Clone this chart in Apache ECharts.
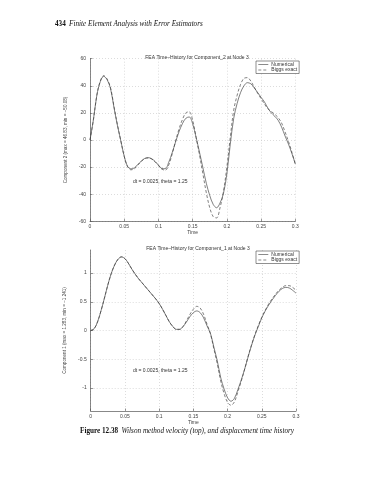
<!DOCTYPE html>
<html><head><meta charset="utf-8">
<script src="https://cdn.jsdelivr.net/npm/echarts@6/dist/echarts.min.js"></script>
<style>html,body{margin:0;padding:0;background:#fff}#c{width:370px;height:480px}</style>
</head><body><div id="c"></div>
<script>
// Time samples (s)
const times = [0,0.005,0.01,0.015,0.02,0.025,0.03,0.035,0.04,0.045,0.05,0.055,0.06,0.065,0.07,0.075,0.08,0.085,0.09,0.095,0.1,0.105,0.11,0.115,0.12,0.125,0.13,0.135,0.14,0.145,0.15,0.155,0.16,0.165,0.17,0.175,0.18,0.185,0.19,0.195,0.2,0.205,0.21,0.215,0.22,0.225,0.23,0.235,0.24,0.245,0.25,0.255,0.26,0.265,0.27,0.275,0.28,0.285,0.29,0.295,0.3];

// Top: Component_2 (velocity)
const velNumerical = [0,15,33,43,47,44.5,38,24,11,-0.5,-12,-19.5,-21.3,-20.5,-18,-15.5,-13.6,-13,-13.8,-15.8,-18.5,-21,-21.2,-16.5,-9.5,-1.5,6,12,16,17,12,2,-9,-20.5,-32,-41,-47.5,-50,-46.5,-39.5,-25,-3,16,27,35,40,42.3,41.5,38.5,35,31.5,28,23.5,20,17.5,14.5,9.5,3,-3,-10,-17.5];
const velExact = [0,15,33,43.5,47.5,45,38.5,25,11.5,-0.5,-12,-19.8,-22,-21.2,-18.5,-15.8,-13.8,-13.3,-14,-16,-18.8,-21.5,-22.3,-18.5,-10.5,-1,8,15,20,20.8,14.5,2,-11,-25,-39,-50,-56.5,-57.5,-50,-38,-20,2,22,33,41,45.5,46,43.5,39,34.5,30.5,26.5,23,21,19,16.5,12.5,6,-1,-9,-18];

// Bottom: Component_1 (displacement)
const dispNumerical = [0,0.03,0.15,0.34,0.56,0.79,0.99,1.14,1.24,1.28,1.25,1.17,1.07,0.98,0.9,0.83,0.76,0.69,0.62,0.55,0.47,0.37,0.26,0.15,0.07,0.02,0.02,0.07,0.15,0.24,0.31,0.34,0.31,0.22,0.08,-0.05,-0.29,-0.53,-0.82,-1.02,-1.17,-1.23,-1.18,-1.03,-0.86,-0.67,-0.46,-0.26,-0.08,0.07,0.22,0.34,0.44,0.53,0.61,0.68,0.73,0.75,0.74,0.7,0.65];
const dispExact = [0,0.03,0.15,0.34,0.56,0.79,0.99,1.14,1.24,1.28,1.25,1.17,1.07,0.98,0.9,0.83,0.76,0.69,0.62,0.55,0.47,0.37,0.26,0.15,0.07,0.02,0.02,0.07,0.17,0.28,0.37,0.42,0.39,0.28,0.11,-0.06,-0.32,-0.58,-0.88,-1.1,-1.25,-1.3,-1.24,-1.07,-0.88,-0.67,-0.45,-0.25,-0.07,0.09,0.23,0.35,0.46,0.55,0.63,0.7,0.75,0.78,0.78,0.75,0.7];

const bottomTicks = [-1,-0.5,0,0.5,1];
const seriesNames = ['Numerical','Biggs exact'];

const FONT = 'Liberation Sans';
const SERIF = 'Liberation Serif';
const labelColor = '#444';
const lineColor = '#3a3a3a';

function pairs(v){ return times.map((t,i)=>[t, v[i]]); }

function xAxisFor(gi){
  return {
    type:'value', gridIndex:gi, min:0, max:0.3, interval:0.05,
    name:'Time', nameLocation:'middle', nameGap:9,
    nameTextStyle:{fontFamily:FONT,fontSize:5,color:labelColor},
    axisLine:{show:true,onZero:false,lineStyle:{color:'#555',width:0.7}},
    axisTick:{show:true,inside:true,length:2.5,lineStyle:{color:'#555',width:0.6}},
    axisLabel:{fontFamily:FONT,fontSize:5,color:labelColor,margin:3},
    splitLine:{show:true,lineStyle:{color:'#c4c4c4',width:0.6,type:[1,2]}}
  };
}
function yAxisBase(gi,name){
  return {
    type:'value', gridIndex:gi,
    name:name, nameLocation:'middle', nameGap:12,
    nameTextStyle:{fontFamily:FONT,fontSize:4.6,color:labelColor},
    axisLine:{show:true,onZero:false,lineStyle:{color:'#555',width:0.7}},
    axisTick:{show:true,inside:true,length:2.5,lineStyle:{color:'#555',width:0.6}},
    axisLabel:{fontFamily:FONT,fontSize:5,color:labelColor,margin:4},
    splitLine:{show:true,lineStyle:{color:'#c4c4c4',width:0.6,type:[1,2]}}
  };
}

const yTop = Object.assign(yAxisBase(0,'Component 2 (max = 46.83, min = \u221250.08)'),{min:-60,max:60,interval:20});
const yBot = Object.assign(yAxisBase(1,'Component 1 (max = 1.283, min = \u22121.241)'),{min:-1.4,max:1.4});
yBot.axisTick = Object.assign({}, yBot.axisTick, {customValues:bottomTicks});
yBot.axisLabel = Object.assign({}, yBot.axisLabel, {customValues:bottomTicks});

function line(name,data,xi,yi,dashed){
  return {
    name:name, type:'line', xAxisIndex:xi, yAxisIndex:yi, data:pairs(data),
    showSymbol:false, symbol:'circle', smooth:0.35, silent:true,
    lineStyle:{color:lineColor,width:0.65,type:dashed?[3,2]:'solid'},
    itemStyle:{color:lineColor}
  };
}

function legendAt(top){
  return {
    data:seriesNames, left:256, top:top, orient:'vertical',
    backgroundColor:'#fff', borderColor:'#444', borderWidth:0.6,
    padding:[1,2,1,2], itemGap:0.5, itemWidth:10, itemHeight:4,
    itemStyle:{opacity:0},
    lineStyle:{width:0.6},
    textStyle:{fontFamily:FONT,fontSize:5,color:'#333',padding:[0,0,0,-2]},
    selectedMode:false
  };
}

const chart = echarts.init(document.getElementById('c'), null, {renderer:'canvas'});
chart.setOption({
  backgroundColor:'#fff',
  animation:false,
  title:[
    {text:'FEA Time\u2013History for Component_2 at Node 3', left:192, top:50, textAlign:'center',
     textStyle:{fontFamily:FONT,fontSize:5,fontWeight:'normal',color:'#333'}},
    {text:'FEA Time\u2013History for Component_1 at Node 3', left:193, top:241, textAlign:'center',
     textStyle:{fontFamily:FONT,fontSize:5,fontWeight:'normal',color:'#333'}}
  ],
  grid:[
    {left:90, top:58.7, width:205.3, height:162.6},
    {left:90.7, top:250, width:205.3, height:161}
  ],
  xAxis:[xAxisFor(0), xAxisFor(1)],
  yAxis:[yTop, yBot],
  legend:[legendAt(61), legendAt(251)],
  series:[
    line('Numerical', velNumerical, 0,0,false),
    line('Biggs exact', velExact, 0,0,true),
    line('Numerical', dispNumerical, 1,1,false),
    line('Biggs exact', dispExact, 1,1,true)
  ],
  graphic:[
    {type:'text', left:55, top:18, style:{
      text:'{b|434} {i|Finite Element Analysis with Error Estimators}',
      rich:{b:{fontFamily:SERIF,fontWeight:'bold',fontSize:7.2,fill:'#111'},
            i:{fontFamily:SERIF,fontStyle:'italic',fontSize:7.2,fill:'#111'}}}},
    {type:'text', left:133, top:179, style:{text:'dt = 0.0025, theta = 1.25',
      fontFamily:FONT,fontSize:5,fill:'#333'}},
    {type:'text', left:133, top:368, style:{text:'dt = 0.0025, theta = 1.25',
      fontFamily:FONT,fontSize:5,fill:'#333'}},
    {type:'text', left:80, top:425, style:{
      text:'{b|Figure 12.38} {i|Wilson method velocity (top), and displacement time history}',
      rich:{b:{fontFamily:SERIF,fontWeight:'bold',fontSize:7.2,fill:'#111'},
            i:{fontFamily:SERIF,fontStyle:'italic',fontSize:7.2,fill:'#111'}}}}
  ]
});
</script></body></html>
